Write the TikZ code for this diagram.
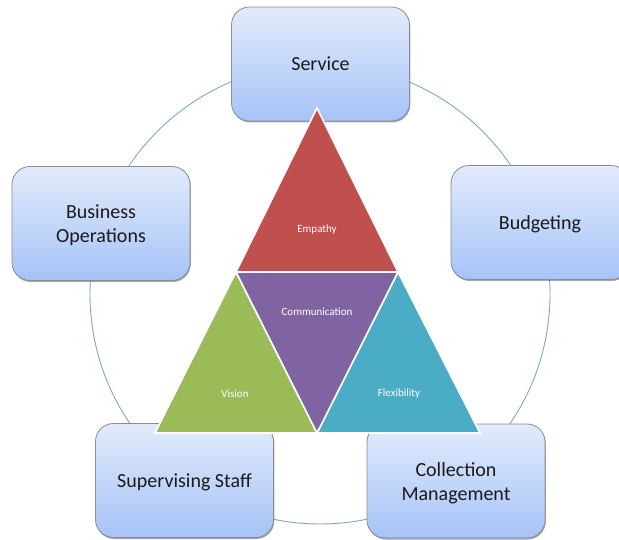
\documentclass[tikz,border=0pt]{standalone}
\usepackage{fontspec}
\setmainfont{Carlito}
\usetikzlibrary{shadows}
\definecolor{boxtop}{HTML}{E2EBFB}
\definecolor{boxbot}{HTML}{A6C3F8}
\definecolor{boxline}{HTML}{8C8C8C}
\definecolor{ringcol}{HTML}{7FA6D4}
\definecolor{cred}{HTML}{C0504D}
\definecolor{cpurple}{HTML}{8064A2}
\definecolor{cgreen}{HTML}{9BBB59}
\definecolor{cteal}{HTML}{4BACC6}
\definecolor{txt}{HTML}{1A1A1A}
\newcommand\boxlift{\rule[-5pt]{0pt}{24pt}}
\tikzset{
  topicbox/.style={rounded corners=18pt, draw=boxline, line width=0.8pt,
    top color=boxtop, bottom color=boxbot, minimum width=178pt, minimum height=114pt,
    align=center, text=txt, font=\fontsize{20}{24}\selectfont,
    drop shadow={shadow xshift=0.8pt, shadow yshift=-1.5pt, opacity=0.35, fill=black}},
  tri/.style={draw=white, line width=1.6pt, line join=miter},
  trilabel/.style={text=white, font=\fontsize{11}{13}\selectfont}
}
\begin{document}
\begin{tikzpicture}[x=1pt,y=-1pt]
\useasboundingbox (0,0) rectangle (619,540);
\fill[white] (0,0) rectangle (619,540);
% ring
\draw[ringcol, line width=0.9pt] (320,294) circle[radius=230];
% boxes
\node[topicbox] (service) at (320.5,64) {\boxlift Service};
\node[topicbox] (budget) at (540,222.5) {\boxlift Budgeting};
\node[topicbox] (collect) at (456,481) {\boxlift Collection\\Management\boxlift};
\node[topicbox] (superv) at (184.5,480.5) {\boxlift Supervising Staff};
\node[topicbox] (busops) at (101,223.5) {\boxlift Business\\Operations\boxlift};
% triangles
\coordinate (A) at (317,108);
\coordinate (L) at (236,272);
\coordinate (R) at (398,272);
\coordinate (BL) at (155,433);
\coordinate (BM) at (317,433);
\coordinate (BR) at (480,433);
\filldraw[tri, fill=cred] (A) -- (R) -- (L) -- cycle;
\filldraw[tri, fill=cgreen] (L) -- (BM) -- (BL) -- cycle;
\filldraw[tri, fill=cteal] (R) -- (BR) -- (BM) -- cycle;
\filldraw[tri, fill=cpurple] (L) -- (R) -- (BM) -- cycle;
\node[trilabel] (empathy) at (317,230) {Empathy};
\node[trilabel] (comm) at (317,312) {Communication};
\node[trilabel] (vision) at (235,394) {Vision};
\node[trilabel] (flex) at (399,394) {Flexibility};
\end{tikzpicture}
\end{document}
